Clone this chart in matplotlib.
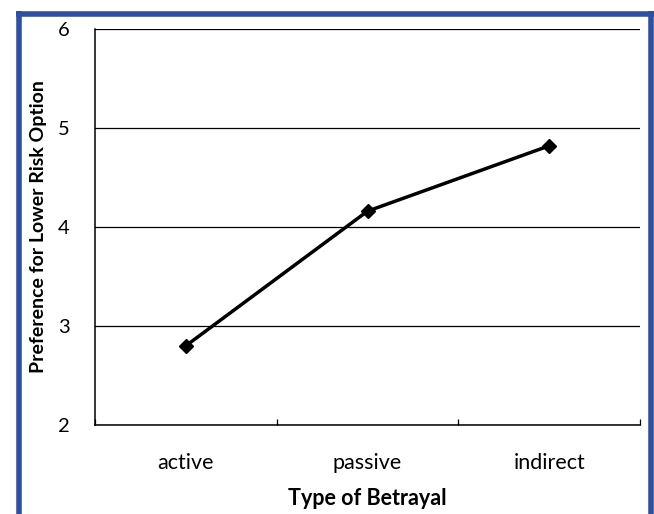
import matplotlib.pyplot as plt
from matplotlib.lines import Line2D

# data
categories = ["active", "passive", "indirect"]
preference = [2.80, 4.16, 4.82]
y_ticks = [2, 3, 4, 5, 6]

plt.rcParams["font.family"] = ["Lato", "DejaVu Sans"]

W, H = 654, 514
fig = plt.figure(figsize=(W / 100, H / 100), dpi=100)
ax = fig.add_axes([95 / W, 1 - 425 / H, (640 - 95) / W, (425 - 29) / H])

x = list(range(len(categories)))
ax.plot(x, preference, color="black", linewidth=2.5, marker="D",
        markersize=7, zorder=3)

ax.set_xlim(-0.5, len(categories) - 0.5)
ax.set_ylim(2, 6)
ax.set_yticks(y_ticks)
ax.yaxis.grid(True, color="black", linewidth=0.9)
ax.set_axisbelow(True)

ax.set_xticks(x)
ax.set_xticklabels(categories, fontsize=15.5)
ax.set_xticks([-0.5 + i for i in range(len(categories) + 1)], minor=True)
ax.tick_params(axis="x", which="major", length=0, pad=20)
ax.tick_params(axis="x", which="minor", direction="in", length=4, width=0.9)
ax.tick_params(axis="y", length=0, pad=18, labelsize=14.5)

for s in ["top", "right"]:
    ax.spines[s].set_visible(False)
for s in ["left", "bottom"]:
    ax.spines[s].set_linewidth(1.1)

ax.set_xlabel("Type of Betrayal", fontsize=15.5, fontweight="bold", labelpad=11)
ax.set_ylabel("Preference for Lower Risk Option", fontsize=14,
              fontweight="bold", labelpad=8)

# blue frame around the picture (open at the bottom)
blue = "#2F4FA2"
lw = 4.0
fig.add_artist(Line2D([18.5 / W, 18.5 / W], [1 - 11 / H, -0.1], color=blue,
                      linewidth=lw, transform=fig.transFigure, solid_capstyle="butt"))
fig.add_artist(Line2D([16 / W, 653.5 / W], [1 - 13.5 / H, 1 - 13.5 / H], color=blue,
                      linewidth=lw, transform=fig.transFigure, solid_capstyle="butt"))
fig.add_artist(Line2D([650.5 / W, 650.5 / W], [1 - 11 / H, -0.1], color=blue,
                      linewidth=lw, transform=fig.transFigure, solid_capstyle="butt"))

fig.savefig("out.png", dpi=100)
